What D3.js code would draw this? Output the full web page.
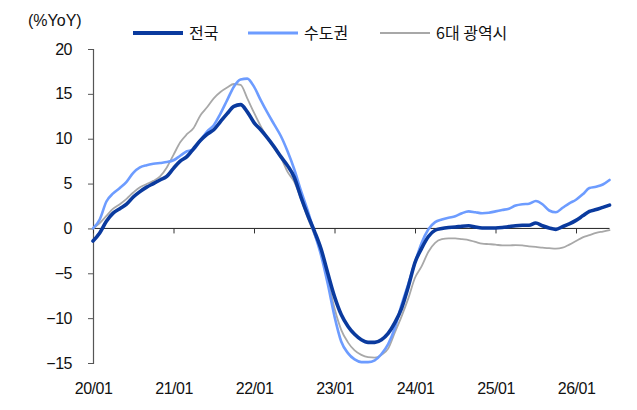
<!DOCTYPE html>
<html>
<head>
<meta charset="utf-8">
<script src="https://cdn.jsdelivr.net/npm/d3@7"></script>
<style>
  body { margin: 0; background: #fff; }
  text { font-family: "Liberation Sans", Arial, sans-serif; fill: #111; }
  .kr { font-family: "Noto Sans CJK KR", "Noto Sans", sans-serif; }
</style>
</head>
<body>
<div id="chart-area"></div>
<script>
// monthly YoY, index 0 = 2020/01
let nation = [-1.4, -0.5, 0.8, 1.7, 2.2, 2.7, 3.5, 4.1, 4.6, 5.0, 5.4, 5.8,
  6.7, 7.5, 8.0, 8.9, 9.8, 10.5, 11.0, 11.9, 12.8, 13.6, 13.8, 13.0,
  11.8, 11.0, 10.1, 9.1, 8.0, 7.0, 5.7, 3.5, 1.5, -0.3, -2.3, -5.0,
  -7.6, -9.6, -10.9, -11.8, -12.4, -12.7, -12.7, -12.4, -11.7, -10.5, -8.9, -6.5,
  -3.8, -2.2, -0.9, -0.2, 0.0, 0.1, 0.15, 0.25, 0.3, 0.15, 0.05, 0.05,
  0.05, 0.1, 0.2, 0.3, 0.35, 0.35, 0.6, 0.3, 0.05, -0.1, 0.2, 0.5,
  0.9, 1.4, 1.9, 2.1, 2.35, 2.6];

let capital = [0.0, 1.0, 3.0, 3.9, 4.5, 5.2, 6.2, 6.8, 7.05, 7.2, 7.3, 7.4,
  7.6, 8.1, 8.6, 8.8, 9.8, 10.8, 11.5, 12.8, 14.3, 15.8, 16.6, 16.7,
  15.8, 14.3, 12.9, 11.6, 10.3, 8.6, 6.6, 4.2, 2.0, -0.5, -3.0, -6.2,
  -9.8, -12.6, -13.9, -14.6, -14.9, -14.9, -14.7, -14.0, -12.9, -11.1, -8.5, -6.2,
  -3.8, -1.6, -0.1, 0.7, 1.0, 1.2, 1.35, 1.7, 1.9, 1.8, 1.7, 1.75,
  1.9, 2.05, 2.2, 2.55, 2.7, 2.75, 3.05, 2.7, 2.0, 1.8, 2.3, 2.8,
  3.2, 3.8, 4.5, 4.65, 4.9, 5.4];

let metro = [0.0, 0.6, 1.4, 2.2, 2.7, 3.3, 4.0, 4.6, 4.95, 5.3, 5.8, 6.8,
  8.2, 9.6, 10.5, 11.2, 12.6, 13.5, 14.5, 15.2, 15.7, 16.1, 16.0, 14.5,
  12.9, 11.4, 10.1, 8.9, 7.9, 6.3, 5.2, 3.3, 1.2, -0.7, -2.7, -5.7,
  -8.9, -11.3, -12.7, -13.6, -14.1, -14.35, -14.4, -14.1, -13.4, -11.6, -9.8, -7.8,
  -5.5, -4.2, -2.6, -1.6, -1.2, -1.1, -1.1, -1.2, -1.3, -1.5, -1.7, -1.75,
  -1.8, -1.9, -1.9, -1.85, -1.9, -2.0, -2.05, -2.15, -2.2, -2.25, -2.15, -1.8,
  -1.4, -1.0, -0.75, -0.5, -0.35, -0.2];

let xTickIdx = [0, 12, 24, 36, 48, 60, 72];
let xTickLabels = ["20/01", "21/01", "22/01", "23/01", "24/01", "25/01", "26/01"];
let yTicks = [-15, -10, -5, 0, 5, 10, 15, 20];

let seriesNames = ["전국", "수도권", "6대 광역시"];
let seriesData = [nation, capital, metro];
let colors = ["#0a3a9e", "#6d9cff", "#a8a8a8"];
let widths = [3.6, 2.6, 1.8];

let width = 637, height = 410;
let svg = d3.select("#chart-area").append("svg").attr("width", width).attr("height", height);

let x = d3.scaleLinear().domain([0, 72]).range([93, 576]);
let y = d3.scaleLinear().domain([-15, 20]).range([363, 49]);

// y axis
let yAxis = svg.append("g").attr("transform", "translate(93,0)")
  .call(d3.axisLeft(y).tickValues(yTicks).tickSize(5).tickPadding(16)
    .tickFormat(d => d < 0 ? "\u2212" + Math.abs(d) : d));
yAxis.select(".domain").attr("stroke", "#555").attr("stroke-width", 1.2);
yAxis.selectAll(".tick line").attr("stroke", "#555");
yAxis.selectAll("text").style("font-size", "16px").style("letter-spacing", "-0.5px")
  .attr("fill", "#111");

// x axis at zero
let xAxis = svg.append("g").attr("transform", "translate(0," + y(0) + ")")
  .call(d3.axisBottom(x).tickValues(xTickIdx).tickSize(5)
    .tickFormat((d, i) => xTickLabels[i]));
xAxis.select(".domain").attr("d", "M" + x(0) + ",0H" + x(nation.length - 1)).attr("stroke", "#222");
xAxis.selectAll(".tick line").attr("stroke", "#333");
xAxis.selectAll("text").attr("y", y(-15) - y(0) + 20)
  .style("font-size", "16px").style("letter-spacing", "-0.5px").attr("fill", "#111");

// lines, gray first so blues sit on top
let line = d3.line().x((d, i) => x(i)).y(d => y(d)).curve(d3.curveMonotoneX);
[2, 1, 0].forEach(k => {
  svg.append("path").datum(seriesData[k])
    .attr("fill", "none").attr("stroke", colors[k]).attr("stroke-width", widths[k])
    .attr("stroke-linejoin", "round").attr("stroke-linecap", "round")
    .attr("d", line);
});

// unit label
svg.append("text").attr("x", 28).attr("y", 26).style("font-size", "16px").text("(%YoY)");

// legend
let legX = [133, 248, 380];
let legend = svg.selectAll(".leg").data(seriesNames).enter().append("g")
  .attr("transform", (d, i) => "translate(" + legX[i] + ",33)");
legend.append("line").attr("x1", 0).attr("x2", 50).attr("y1", 0).attr("y2", 0)
  .attr("stroke", (d, i) => colors[i]).attr("stroke-width", (d, i) => widths[i] + 0.4);
legend.append("text").attr("class", "kr").attr("x", 56).attr("y", 6)
  .style("font-size", "16px").text(d => d);
</script>
</body>
</html>
